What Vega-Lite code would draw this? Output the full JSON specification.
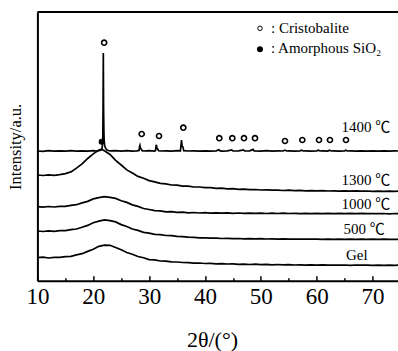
{
  "$schema": "https://vega.github.io/schema/vega-lite/v6.json",
  "autosize": {"type": "none"},
  "padding": {"left": 37.4, "top": 12, "right": 0, "bottom": 70.3},
  "width": 360.6,
  "height": 268.7,
  "config": {"view": {"stroke": null}, "font": "Liberation Serif"},
  "resolve": {"axis": {"x": "independent"}},
  "datasets": {
    "curves": [
      {"s":"Gel","x":10,"y":23.0},{"s":"Gel","x":11,"y":23.5},{"s":"Gel","x":12,"y":22.7},{"s":"Gel","x":13,"y":23.3},{"s":"Gel","x":14,"y":23.4},{"s":"Gel","x":15,"y":24.0},{"s":"Gel","x":16,"y":24.4},{"s":"Gel","x":17,"y":25.8},{"s":"Gel","x":18,"y":27.0},{"s":"Gel","x":19,"y":29.3},{"s":"Gel","x":20,"y":31.4},{"s":"Gel","x":21,"y":34.4},{"s":"Gel","x":22,"y":35.6},{"s":"Gel","x":23,"y":35.4},{"s":"Gel","x":24,"y":33.2},{"s":"Gel","x":25,"y":31.0},{"s":"Gel","x":26,"y":28.2},{"s":"Gel","x":27,"y":26.5},{"s":"Gel","x":28,"y":24.2},{"s":"Gel","x":29,"y":23.0},{"s":"Gel","x":30,"y":21.1},{"s":"Gel","x":31,"y":20.8},{"s":"Gel","x":32,"y":19.7},{"s":"Gel","x":33,"y":19.6},{"s":"Gel","x":34,"y":18.8},{"s":"Gel","x":35,"y":18.7},{"s":"Gel","x":36,"y":18.2},{"s":"Gel","x":37,"y":18.1},{"s":"Gel","x":38,"y":17.6},{"s":"Gel","x":39,"y":17.7},{"s":"Gel","x":40,"y":17.2},{"s":"Gel","x":41,"y":17.4},{"s":"Gel","x":42,"y":16.9},{"s":"Gel","x":43,"y":17.0},{"s":"Gel","x":44,"y":16.7},{"s":"Gel","x":45,"y":16.9},{"s":"Gel","x":46,"y":16.4},{"s":"Gel","x":47,"y":16.6},{"s":"Gel","x":48,"y":16.2},{"s":"Gel","x":49,"y":16.5},{"s":"Gel","x":50,"y":16.0},{"s":"Gel","x":51,"y":16.3},{"s":"Gel","x":52,"y":15.9},{"s":"Gel","x":53,"y":16.2},{"s":"Gel","x":54,"y":15.8},{"s":"Gel","x":55,"y":16.0},{"s":"Gel","x":56,"y":15.7},{"s":"Gel","x":57,"y":15.9},{"s":"Gel","x":58,"y":15.6},{"s":"Gel","x":59,"y":15.9},{"s":"Gel","x":60,"y":15.6},{"s":"Gel","x":61,"y":15.8},{"s":"Gel","x":62,"y":15.5},{"s":"Gel","x":63,"y":15.7},{"s":"Gel","x":64,"y":15.5},{"s":"Gel","x":65,"y":15.7},{"s":"Gel","x":66,"y":15.4},{"s":"Gel","x":67,"y":15.7},{"s":"Gel","x":68,"y":15.5},{"s":"Gel","x":69,"y":15.6},{"s":"Gel","x":70,"y":15.4},{"s":"Gel","x":71,"y":15.6},{"s":"Gel","x":72,"y":15.4},{"s":"Gel","x":73,"y":15.6},{"s":"Gel","x":74,"y":15.4},{"s":"Gel","x":74.55,"y":15.5},
      {"s":"500","x":10,"y":49.7},{"s":"500","x":11,"y":49.2},{"s":"500","x":12,"y":49.9},{"s":"500","x":13,"y":49.4},{"s":"500","x":14,"y":50.0},{"s":"500","x":15,"y":50.1},{"s":"500","x":16,"y":51.0},{"s":"500","x":17,"y":51.7},{"s":"500","x":18,"y":53.5},{"s":"500","x":19,"y":55.3},{"s":"500","x":20,"y":58.0},{"s":"500","x":21,"y":59.6},{"s":"500","x":22,"y":60.8},{"s":"500","x":23,"y":60.1},{"s":"500","x":24,"y":58.8},{"s":"500","x":25,"y":56.1},{"s":"500","x":26,"y":54.2},{"s":"500","x":27,"y":51.7},{"s":"500","x":28,"y":50.3},{"s":"500","x":29,"y":48.4},{"s":"500","x":30,"y":47.6},{"s":"500","x":31,"y":46.4},{"s":"500","x":32,"y":46.1},{"s":"500","x":33,"y":45.2},{"s":"500","x":34,"y":45.0},{"s":"500","x":35,"y":44.3},{"s":"500","x":36,"y":44.1},{"s":"500","x":37,"y":43.5},{"s":"500","x":38,"y":43.4},{"s":"500","x":39,"y":42.9},{"s":"500","x":40,"y":42.9},{"s":"500","x":41,"y":42.5},{"s":"500","x":42,"y":42.6},{"s":"500","x":43,"y":42.2},{"s":"500","x":44,"y":42.4},{"s":"500","x":45,"y":42.0},{"s":"500","x":46,"y":42.2},{"s":"500","x":47,"y":41.9},{"s":"500","x":48,"y":42.1},{"s":"500","x":49,"y":41.8},{"s":"500","x":50,"y":42.0},{"s":"500","x":51,"y":41.7},{"s":"500","x":52,"y":41.9},{"s":"500","x":53,"y":41.6},{"s":"500","x":54,"y":41.8},{"s":"500","x":55,"y":41.6},{"s":"500","x":56,"y":41.7},{"s":"500","x":57,"y":41.5},{"s":"500","x":58,"y":41.7},{"s":"500","x":59,"y":41.5},{"s":"500","x":60,"y":41.6},{"s":"500","x":61,"y":41.4},{"s":"500","x":62,"y":41.6},{"s":"500","x":63,"y":41.4},{"s":"500","x":64,"y":41.6},{"s":"500","x":65,"y":41.4},{"s":"500","x":66,"y":41.5},{"s":"500","x":67,"y":41.3},{"s":"500","x":68,"y":41.5},{"s":"500","x":69,"y":41.4},{"s":"500","x":70,"y":41.5},{"s":"500","x":71,"y":41.3},{"s":"500","x":72,"y":41.5},{"s":"500","x":73,"y":41.3},{"s":"500","x":74,"y":41.4},{"s":"500","x":74.55,"y":41.4},
      {"s":"1000","x":10,"y":74.0},{"s":"1000","x":11,"y":73.5},{"s":"1000","x":12,"y":74.2},{"s":"1000","x":13,"y":73.7},{"s":"1000","x":14,"y":74.3},{"s":"1000","x":15,"y":74.4},{"s":"1000","x":16,"y":75.3},{"s":"1000","x":17,"y":76.0},{"s":"1000","x":18,"y":77.8},{"s":"1000","x":19,"y":79.3},{"s":"1000","x":20,"y":81.8},{"s":"1000","x":21,"y":83.1},{"s":"1000","x":22,"y":84.1},{"s":"1000","x":23,"y":83.4},{"s":"1000","x":24,"y":82.3},{"s":"1000","x":25,"y":80.0},{"s":"1000","x":26,"y":78.3},{"s":"1000","x":27,"y":75.8},{"s":"1000","x":28,"y":74.3},{"s":"1000","x":29,"y":72.2},{"s":"1000","x":30,"y":71.2},{"s":"1000","x":31,"y":70.0},{"s":"1000","x":32,"y":69.8},{"s":"1000","x":33,"y":68.9},{"s":"1000","x":34,"y":69.0},{"s":"1000","x":35,"y":68.3},{"s":"1000","x":36,"y":68.5},{"s":"1000","x":37,"y":67.9},{"s":"1000","x":38,"y":68.2},{"s":"1000","x":39,"y":67.7},{"s":"1000","x":40,"y":68.0},{"s":"1000","x":41,"y":67.6},{"s":"1000","x":42,"y":67.9},{"s":"1000","x":43,"y":67.5},{"s":"1000","x":44,"y":67.8},{"s":"1000","x":45,"y":67.4},{"s":"1000","x":46,"y":67.7},{"s":"1000","x":47,"y":67.3},{"s":"1000","x":48,"y":67.6},{"s":"1000","x":49,"y":67.3},{"s":"1000","x":50,"y":67.6},{"s":"1000","x":51,"y":67.2},{"s":"1000","x":52,"y":67.5},{"s":"1000","x":53,"y":67.2},{"s":"1000","x":54,"y":67.5},{"s":"1000","x":55,"y":67.2},{"s":"1000","x":56,"y":67.4},{"s":"1000","x":57,"y":67.1},{"s":"1000","x":58,"y":67.4},{"s":"1000","x":59,"y":67.1},{"s":"1000","x":60,"y":67.4},{"s":"1000","x":61,"y":67.1},{"s":"1000","x":62,"y":67.3},{"s":"1000","x":63,"y":67.1},{"s":"1000","x":64,"y":67.3},{"s":"1000","x":65,"y":67.0},{"s":"1000","x":66,"y":67.3},{"s":"1000","x":67,"y":67.0},{"s":"1000","x":68,"y":67.3},{"s":"1000","x":69,"y":67.0},{"s":"1000","x":70,"y":67.2},{"s":"1000","x":71,"y":67.0},{"s":"1000","x":72,"y":67.2},{"s":"1000","x":73,"y":66.9},{"s":"1000","x":74,"y":67.2},{"s":"1000","x":74.55,"y":67.0},
      {"s":"1300","x":10,"y":105.7},{"s":"1300","x":11,"y":105.2},{"s":"1300","x":12,"y":105.9},{"s":"1300","x":13,"y":105.4},{"s":"1300","x":14,"y":106.0},{"s":"1300","x":15,"y":107.1},{"s":"1300","x":16,"y":108.8},{"s":"1300","x":17,"y":112.6},{"s":"1300","x":18,"y":116.8},{"s":"1300","x":19,"y":122.2},{"s":"1300","x":20,"y":126.8},{"s":"1300","x":21,"y":130.6},{"s":"1300","x":21.5,"y":131.3},{"s":"1300","x":22,"y":130.0},{"s":"1300","x":23,"y":126.2},{"s":"1300","x":24,"y":120.3},{"s":"1300","x":25,"y":115.7},{"s":"1300","x":26,"y":110.8},{"s":"1300","x":27,"y":107.7},{"s":"1300","x":28,"y":104.3},{"s":"1300","x":29,"y":102.4},{"s":"1300","x":30,"y":100.1},{"s":"1300","x":31,"y":98.8},{"s":"1300","x":32,"y":97.3},{"s":"1300","x":33,"y":96.8},{"s":"1300","x":34,"y":95.7},{"s":"1300","x":35,"y":95.5},{"s":"1300","x":36,"y":94.6},{"s":"1300","x":37,"y":94.5},{"s":"1300","x":38,"y":93.7},{"s":"1300","x":39,"y":93.7},{"s":"1300","x":40,"y":93.0},{"s":"1300","x":41,"y":93.0},{"s":"1300","x":42,"y":92.4},{"s":"1300","x":43,"y":92.5},{"s":"1300","x":44,"y":91.9},{"s":"1300","x":45,"y":92.0},{"s":"1300","x":46,"y":91.4},{"s":"1300","x":47,"y":91.6},{"s":"1300","x":48,"y":91.0},{"s":"1300","x":49,"y":91.2},{"s":"1300","x":50,"y":90.7},{"s":"1300","x":51,"y":90.9},{"s":"1300","x":52,"y":90.5},{"s":"1300","x":53,"y":90.6},{"s":"1300","x":54,"y":90.2},{"s":"1300","x":55,"y":90.5},{"s":"1300","x":56,"y":90.0},{"s":"1300","x":57,"y":90.3},{"s":"1300","x":58,"y":89.9},{"s":"1300","x":59,"y":90.1},{"s":"1300","x":60,"y":89.8},{"s":"1300","x":61,"y":90.0},{"s":"1300","x":62,"y":89.7},{"s":"1300","x":63,"y":89.9},{"s":"1300","x":64,"y":89.6},{"s":"1300","x":65,"y":89.8},{"s":"1300","x":66,"y":89.5},{"s":"1300","x":67,"y":89.8},{"s":"1300","x":68,"y":89.5},{"s":"1300","x":69,"y":89.7},{"s":"1300","x":70,"y":89.4},{"s":"1300","x":71,"y":89.6},{"s":"1300","x":72,"y":89.4},{"s":"1300","x":73,"y":89.6},{"s":"1300","x":74,"y":89.3},{"s":"1300","x":74.55,"y":89.5},
      {"s":"1400","x":10,"y":129.7},{"s":"1400","x":11,"y":129.4},{"s":"1400","x":12,"y":130.0},{"s":"1400","x":13,"y":129.5},{"s":"1400","x":14,"y":129.9},{"s":"1400","x":15,"y":129.6},{"s":"1400","x":16,"y":130.1},{"s":"1400","x":17,"y":129.5},{"s":"1400","x":18,"y":129.9},{"s":"1400","x":19,"y":129.6},{"s":"1400","x":20,"y":130.0},{"s":"1400","x":20.5,"y":129.7},{"s":"1400","x":21,"y":130.1},{"s":"1400","x":21.3,"y":130.4},{"s":"1400","x":21.5,"y":131.5},{"s":"1400","x":21.6,"y":133.5},{"s":"1400","x":21.7,"y":140},{"s":"1400","x":21.75,"y":172},{"s":"1400","x":21.8,"y":227.7},{"s":"1400","x":21.85,"y":172},{"s":"1400","x":21.9,"y":150},{"s":"1400","x":21.95,"y":140},{"s":"1400","x":22.05,"y":135},{"s":"1400","x":22.2,"y":132.5},{"s":"1400","x":22.4,"y":131.0},{"s":"1400","x":22.7,"y":130.2},{"s":"1400","x":23,"y":129.8},{"s":"1400","x":24,"y":130.1},{"s":"1400","x":25,"y":129.6},{"s":"1400","x":26,"y":130.0},{"s":"1400","x":27,"y":129.5},{"s":"1400","x":27.8,"y":129.9},{"s":"1400","x":28.2,"y":130.3},{"s":"1400","x":28.3,"y":134.5},{"s":"1400","x":28.35,"y":135.3},{"s":"1400","x":28.45,"y":132.2},{"s":"1400","x":28.6,"y":131.6},{"s":"1400","x":28.75,"y":130.0},{"s":"1400","x":29,"y":129.7},{"s":"1400","x":30,"y":130.0},{"s":"1400","x":31,"y":129.6},{"s":"1400","x":31.15,"y":130.2},{"s":"1400","x":31.25,"y":135.0},{"s":"1400","x":31.3,"y":135.8},{"s":"1400","x":31.4,"y":132.4},{"s":"1400","x":31.55,"y":131.6},{"s":"1400","x":31.7,"y":129.9},{"s":"1400","x":32,"y":129.7},{"s":"1400","x":33,"y":129.9},{"s":"1400","x":34,"y":129.6},{"s":"1400","x":35,"y":130.0},{"s":"1400","x":35.6,"y":129.8},{"s":"1400","x":35.7,"y":135},{"s":"1400","x":35.8,"y":140.7},{"s":"1400","x":35.9,"y":134.5},{"s":"1400","x":36.05,"y":133.8},{"s":"1400","x":36.2,"y":130.0},{"s":"1400","x":37,"y":129.7},{"s":"1400","x":38,"y":129.9},{"s":"1400","x":39,"y":129.6},{"s":"1400","x":40,"y":129.9},{"s":"1400","x":41,"y":129.6},{"s":"1400","x":42,"y":129.8},{"s":"1400","x":42.5,"y":131.0},{"s":"1400","x":42.7,"y":129.8},{"s":"1400","x":43,"y":129.6},{"s":"1400","x":44,"y":129.9},{"s":"1400","x":44.8,"y":130.8},{"s":"1400","x":45,"y":129.7},{"s":"1400","x":46,"y":129.8},{"s":"1400","x":46.9,"y":130.8},{"s":"1400","x":47.1,"y":129.7},{"s":"1400","x":48,"y":129.9},{"s":"1400","x":48.6,"y":131.3},{"s":"1400","x":48.8,"y":129.8},{"s":"1400","x":50,"y":129.6},{"s":"1400","x":51,"y":130.0},{"s":"1400","x":52,"y":129.6},{"s":"1400","x":53,"y":129.9},{"s":"1400","x":54,"y":129.7},{"s":"1400","x":54.3,"y":130.6},{"s":"1400","x":54.6,"y":129.7},{"s":"1400","x":55,"y":129.9},{"s":"1400","x":56,"y":129.6},{"s":"1400","x":57,"y":129.9},{"s":"1400","x":57.3,"y":130.5},{"s":"1400","x":57.6,"y":129.7},{"s":"1400","x":58,"y":129.8},{"s":"1400","x":59,"y":129.6},{"s":"1400","x":60,"y":129.9},{"s":"1400","x":60.3,"y":130.5},{"s":"1400","x":60.6,"y":129.7},{"s":"1400","x":61,"y":129.8},{"s":"1400","x":62,"y":129.6},{"s":"1400","x":62.3,"y":130.4},{"s":"1400","x":62.6,"y":129.7},{"s":"1400","x":63,"y":129.9},{"s":"1400","x":64,"y":129.6},{"s":"1400","x":65,"y":129.9},{"s":"1400","x":65.2,"y":130.4},{"s":"1400","x":65.5,"y":129.7},{"s":"1400","x":66,"y":129.8},{"s":"1400","x":67,"y":129.6},{"s":"1400","x":68,"y":129.9},{"s":"1400","x":69,"y":129.6},{"s":"1400","x":70,"y":129.8},{"s":"1400","x":71,"y":129.5},{"s":"1400","x":72,"y":129.8},{"s":"1400","x":73,"y":129.6},{"s":"1400","x":74,"y":129.8},{"s":"1400","x":74.55,"y":129.7}
    ],
    "markers": [
      {"k":"c","x":21.95,"y":238},
      {"k":"c","x":28.67,"y":146.7},
      {"k":"c","x":31.77,"y":144.7},
      {"k":"c","x":36.12,"y":153},
      {"k":"c","x":42.56,"y":142.5},
      {"k":"c","x":44.89,"y":142.5},
      {"k":"c","x":46.98,"y":142.5},
      {"k":"c","x":48.95,"y":142.5},
      {"k":"c","x":54.32,"y":139.7},
      {"k":"c","x":57.42,"y":140.7},
      {"k":"c","x":60.41,"y":140.7},
      {"k":"c","x":62.37,"y":140.7},
      {"k":"c","x":65.24,"y":140.7},
      {"k":"a","x":21.5,"y":139}
    ],
    "labels": [
      {"x":64.43,"y":149,"t":"1400 ℃"},
      {"x":64.43,"y":95.7,"t":"1300 ℃"},
      {"x":64.43,"y":71.7,"t":"1000 ℃"},
      {"x":64.79,"y":46.7,"t":"500 ℃"},
      {"x":65.24,"y":20.7,"t":"Gel"}
    ],
    "legendText": [
      {"x":51.81,"y":247.4,"t":": Cristobalite"},
      {"x":51.81,"y":227.4,"t":": Amorphous SiO₂"}
    ],
    "legendSym": [
      {"k":"c","x":49.84,"y":252.4},
      {"k":"a","x":49.84,"y":231.4}
    ],
    "frame": [{"y":268.7}]
  },
  "layer": [
    {
      "data": {"name": "curves"},
      "mark": {"type": "line", "color": "black", "strokeWidth": 1.7, "clip": true},
      "encoding": {
        "x": {
          "field": "x", "type": "quantitative",
          "scale": {"domain": [10, 74.55], "nice": false, "zero": false},
          "axis": {
            "orient": "bottom",
            "values": [10,20,30,40,50,60,70],
            "tickSize": -5,
            "grid": false,
            "domainColor": "black", "domainWidth": 2,
            "tickColor": "black", "tickWidth": 1.5,
            "labelFont": "Liberation Serif", "labelFontSize": 23, "labelColor": "black",
            "labelPadding": 10, "labelFlush": false, "labelOverlap": false,
            "title": "2θ/(°)",
            "titleFont": "Liberation Serif", "titleFontSize": 22, "titleFontWeight": "normal", "titleColor": "black",
            "titleX": 174.6, "titleY": 66, "titleBaseline": "alphabetic", "titleAlign": "center"
          }
        },
        "y": {
          "field": "y", "type": "quantitative",
          "scale": {"domain": [0, 268.7], "nice": false, "zero": false},
          "axis": {
            "ticks": false, "labels": false, "grid": false,
            "domainColor": "black", "domainWidth": 2,
            "title": "Intensity/a.u.",
            "titleFont": "Liberation Serif", "titleFontSize": 16.5, "titleFontWeight": "normal", "titleColor": "black",
            "titlePadding": 14
          }
        },
        "detail": {"field": "s"}
      }
    },
    {
      "data": {"name": "frame"},
      "mark": {"type": "rule", "color": "black", "strokeWidth": 2},
      "encoding": {"y": {"field": "y", "type": "quantitative"}}
    },
    {
      "data": {"name": "markers"},
      "transform": [{"filter": "datum.k === 'c'"}],
      "mark": {"type": "point", "shape": "circle", "filled": false, "stroke": "black", "strokeWidth": 1.6, "size": 26, "opacity": 1},
      "encoding": {
        "x": {
          "field": "x", "type": "quantitative",
          "axis": {
            "orient": "bottom",
            "values": [15,25,35,45,55,65],
            "tickSize": -3,
            "labels": false, "domain": false, "grid": false, "title": null,
            "tickColor": "black", "tickWidth": 1.5
          }
        },
        "y": {"field": "y", "type": "quantitative"}
      }
    },
    {
      "data": {"name": "markers"},
      "transform": [{"filter": "datum.k === 'a'"}],
      "mark": {"type": "point", "shape": "circle", "filled": true, "fill": "black", "size": 36, "opacity": 1},
      "encoding": {
        "x": {"field": "x", "type": "quantitative", "axis": null},
        "y": {"field": "y", "type": "quantitative"}
      }
    },
    {
      "data": {"name": "legendSym"},
      "transform": [{"filter": "datum.k === 'c'"}],
      "mark": {"type": "point", "shape": "circle", "filled": false, "stroke": "black", "strokeWidth": 1, "size": 20, "opacity": 1},
      "encoding": {
        "x": {"field": "x", "type": "quantitative", "axis": null},
        "y": {"field": "y", "type": "quantitative"}
      }
    },
    {
      "data": {"name": "legendSym"},
      "transform": [{"filter": "datum.k === 'a'"}],
      "mark": {"type": "point", "shape": "circle", "filled": true, "fill": "black", "size": 36, "opacity": 1},
      "encoding": {
        "x": {"field": "x", "type": "quantitative", "axis": null},
        "y": {"field": "y", "type": "quantitative"}
      }
    },
    {
      "data": {"name": "labels"},
      "mark": {"type": "text", "align": "left", "baseline": "alphabetic", "font": "Liberation Serif, Noto Sans CJK SC", "fontSize": 15, "color": "black"},
      "encoding": {
        "x": {"field": "x", "type": "quantitative", "axis": null},
        "y": {"field": "y", "type": "quantitative"},
        "text": {"field": "t"}
      }
    },
    {
      "data": {"name": "legendText"},
      "mark": {"type": "text", "align": "left", "baseline": "alphabetic", "font": "Liberation Serif", "fontSize": 15, "color": "black"},
      "encoding": {
        "x": {"field": "x", "type": "quantitative", "axis": null},
        "y": {"field": "y", "type": "quantitative"},
        "text": {"field": "t"}
      }
    }
  ]
}
